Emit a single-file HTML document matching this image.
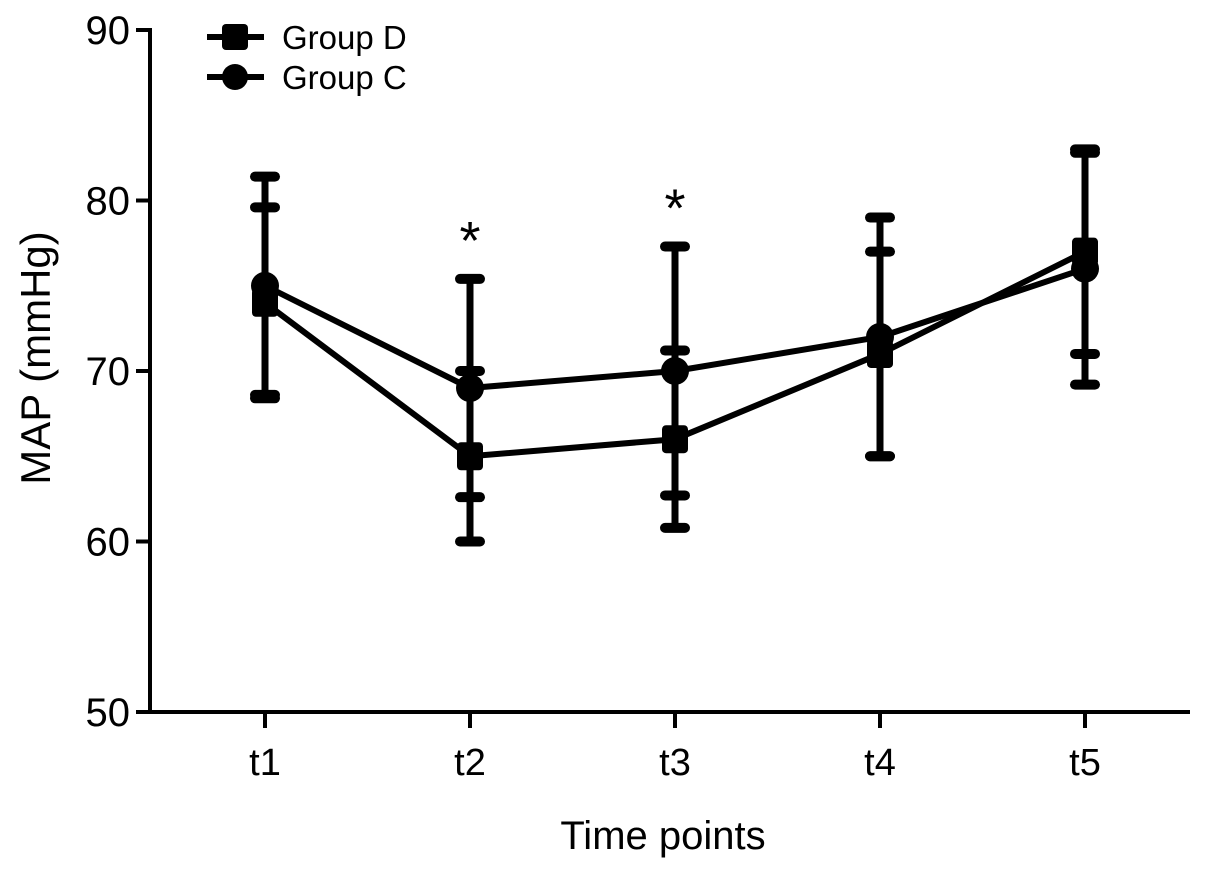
<!DOCTYPE html>
<html><head><meta charset="utf-8"><style>
body{margin:0;background:#fff;width:1205px;height:873px;overflow:hidden}
text{font-family:"Liberation Sans",Arial,sans-serif;fill:#000}
</style></head><body>
<svg id="chart" width="1205" height="873" viewBox="0 0 1205 873"></svg>
<script>
const categories=["t1","t2","t3","t4","t5"];
const groupD=[74,65,66,71,77];
const groupDErr=[5.6,5,5.2,6,6];
const groupC=[75,69,70,72,76];
const groupCErr=[6.4,6.4,7.3,7,6.8];
const yTicks=[50,60,70,80,90];
const sigMarks=[false,true,true,false,false];

const svg=document.getElementById('chart');
const NS='http://www.w3.org/2000/svg';
function el(tag,attrs,parent){const e=document.createElementNS(NS,tag);for(const k in attrs)e.setAttribute(k,attrs[k]);(parent||svg).appendChild(e);return e;}
const x0=265,dx=205,yBase=712,pxPer=17.05;
function xs(i){return x0+i*dx;}
function ys(v){return yBase-(v-50)*pxPer;}

let ax=el('line',{x1:150,y1:ys(90)-2,x2:150,y2:yBase+2,stroke:'#000','stroke-width':4});


ax=el('line',{x1:148,y1:yBase,x2:1190,y2:yBase,stroke:'#000','stroke-width':4});


yTicks.forEach(v=>{
  const t=el('line',{x1:136,y1:ys(v),x2:150,y2:ys(v),stroke:'#000','stroke-width':4});
  
  
  const l=el('text',{x:130,y:ys(v)+14,'text-anchor':'end','font-size':40});
  l.textContent=v;
  
  
});
categories.forEach((c,i)=>{
  const t=el('line',{x1:xs(i),y1:yBase,x2:xs(i),y2:yBase+16,stroke:'#000','stroke-width':4});
  
  
  const l=el('text',{x:xs(i),y:yBase+63,'text-anchor':'middle','font-size':38});
  l.textContent=c;
  
  
});
let yl=el('text',{x:0,y:0,'text-anchor':'middle','font-size':42,transform:'translate(50,358) rotate(-90)'});
yl.textContent='MAP (mmHg)';


let xl=el('text',{x:663,y:849,'text-anchor':'middle','font-size':40});
xl.textContent='Time points';



function errBars(vals,errs,name){
  vals.forEach((v,i)=>{
    const x=xs(i);
    const g=el('g',{stroke:'#000','stroke-width':7,'stroke-linecap':'round'});
    
    
    el('line',{x1:x,y1:ys(v+errs[i]),x2:x,y2:ys(v-errs[i])},g);
    el('line',{x1:x-10,y1:ys(v+errs[i]),x2:x+10,y2:ys(v+errs[i]),'stroke-width':10},g);
    el('line',{x1:x-10,y1:ys(v-errs[i]),x2:x+10,y2:ys(v-errs[i]),'stroke-width':10},g);
  });
}
errBars(groupD,groupDErr,'group-d');
errBars(groupC,groupCErr,'group-c');
function series(vals,name,shape){
  const p=el('polyline',{points:vals.map((v,i)=>xs(i)+','+ys(v)).join(' '),fill:'none',stroke:'#000','stroke-width':6,'stroke-linejoin':'round'});
  
  
  vals.forEach((v,i)=>{
    let m;
    if(shape==='square')m=el('rect',{x:xs(i)-13,y:ys(v)-14,width:26,height:28,rx:4,fill:'#000'});
    else m=el('circle',{cx:xs(i),cy:ys(v),r:14,fill:'#000'});
    
    
  });
}
series(groupD,'group-d','square');
series(groupC,'group-c','circle');
sigMarks.forEach((s,i)=>{
  if(!s)return;
  const top=Math.max(groupD[i]+groupDErr[i],groupC[i]+groupCErr[i]);
  const a=el('text',{x:xs(i),y:ys(top)-20,'text-anchor':'middle','font-size':54});
  a.textContent='*';
  
  
});
[['Group D','square',37],['Group C','circle',77]].forEach(([lab,shape,y])=>{
  const g=el('g',{});
  
  
  el('line',{x1:207,y1:y,x2:264,y2:y,stroke:'#000','stroke-width':6},g);
  if(shape==='square')el('rect',{x:222,y:y-13,width:26,height:26,rx:4,fill:'#000'},g);
  else el('circle',{cx:235,cy:y,r:13,fill:'#000'},g);
  const t=el('text',{x:282,y:y+12,'font-size':33},g);
  t.textContent=lab;
});
</script>
</body></html>
